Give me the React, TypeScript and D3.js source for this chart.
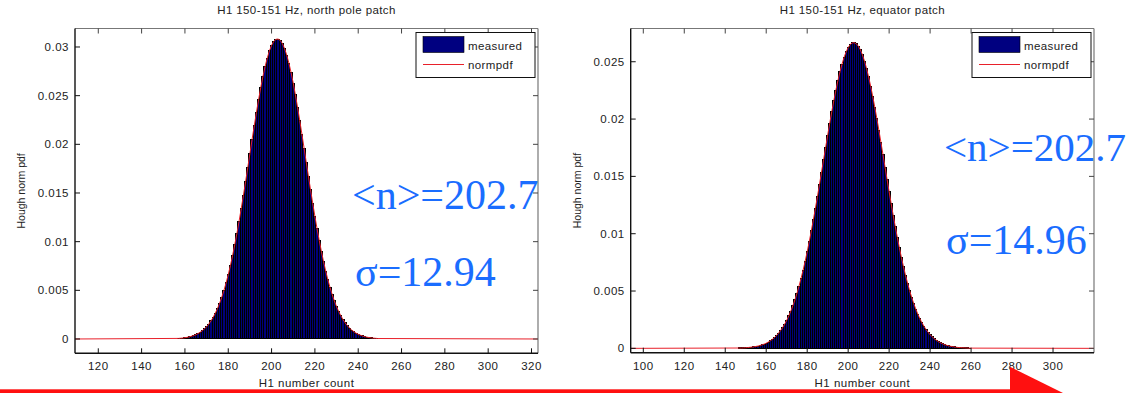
import React from 'react';
import * as d3 from 'd3';

// ---- data ----
const northFirstCount = 157;
const northMeasured = [
  0.00006, 0.00008, 0.0001, 0.00013, 0.00017, 0.00022, 0.00028, 0.00035, 0.00044, 0.00055,
  0.00069, 0.00085, 0.00104, 0.00127, 0.00153, 0.00185, 0.00221, 0.00264, 0.00312, 0.00367,
  0.00429, 0.00499, 0.00576, 0.00662, 0.00756, 0.00858, 0.00968, 0.01085, 0.0121, 0.01341,
  0.01477, 0.01617, 0.0176, 0.01905, 0.02049, 0.0219, 0.02328, 0.02459, 0.02583, 0.02696,
  0.02798, 0.02886, 0.0296, 0.03017, 0.03057, 0.03079, 0.03082, 0.03068, 0.03035, 0.02984,
  0.02917, 0.02835, 0.02738, 0.0263, 0.0251, 0.02381, 0.02246, 0.02106, 0.01962, 0.01818,
  0.01674, 0.01533, 0.01395, 0.01261, 0.01134, 0.01014, 0.00901, 0.00796, 0.00698, 0.00609,
  0.00529, 0.00456, 0.00391, 0.00333, 0.00282, 0.00238, 0.00199, 0.00165, 0.00137, 0.00112,
  0.00092, 0.00075, 0.0006, 0.00048, 0.00039, 0.00031, 0.00024, 0.00019, 0.00015, 0.00011,
  0.00009, 0.00007, 0.00005,
];
const equatorFirstCount = 147;
const equatorMeasured = [
  0.00003, 0.00003, 0.00004, 0.00005, 0.00007, 0.00009, 0.00011, 0.00013, 0.00017, 0.0002,
  0.00025, 0.00031, 0.00037, 0.00045, 0.00055, 0.00066, 0.00079, 0.00094, 0.00111, 0.00132,
  0.00155, 0.00181, 0.00211, 0.00245, 0.00283, 0.00325, 0.00372, 0.00423, 0.0048, 0.00542,
  0.0061, 0.00682, 0.0076, 0.00843, 0.00931, 0.01024, 0.01121, 0.01221, 0.01324, 0.0143,
  0.01538, 0.01646, 0.01753, 0.0186, 0.01964, 0.02065, 0.02161, 0.02252, 0.02336, 0.02412,
  0.0248, 0.02538, 0.02586, 0.02624, 0.0265, 0.02664, 0.02666, 0.02657, 0.02635, 0.02603,
  0.02559, 0.02505, 0.0244, 0.02367, 0.02286, 0.02198, 0.02104, 0.02005, 0.01902, 0.01796,
  0.01689, 0.01581, 0.01473, 0.01366, 0.01262, 0.0116, 0.01062, 0.00968, 0.00878, 0.00793,
  0.00713, 0.00638, 0.00569, 0.00504, 0.00446, 0.00392, 0.00343, 0.00299, 0.00259, 0.00224,
  0.00193, 0.00165, 0.00141, 0.00119, 0.00101, 0.00085, 0.00071, 0.00059, 0.00049, 0.00041,
  0.00033, 0.00027, 0.00022, 0.00018, 0.00015, 0.00012, 0.00009, 0.00007, 0.00006, 0.00005,
  0.00004, 0.00003, 0.00002,
];
const northXTicks = [120, 140, 160, 180, 200, 220, 240, 260, 280, 300, 320];
const equatorXTicks = [100, 120, 140, 160, 180, 200, 220, 240, 260, 280, 300];
const northYTicks = [0, 0.005, 0.01, 0.015, 0.02, 0.025, 0.03];
const equatorYTicks = [0, 0.005, 0.01, 0.015, 0.02, 0.025];
const northTitle = 'H1 150-151 Hz, north pole patch';
const equatorTitle = 'H1 150-151 Hz, equator patch';
const xLabel = 'H1 number count';
const yLabel = 'Hough norm pdf';
const legendLabels = ['measured', 'normpdf'];
const northMean = '<n>=202.7';
const northSigma = 'σ=12.94';
const equatorMean = '<n>=202.7';
const equatorSigma = 'σ=14.96';

const SANS = '"Liberation Sans", Arial, Helvetica, sans-serif';
const SERIF = '"Liberation Serif", "Times New Roman", serif';
const NAVY = '#00007a';
const RED = '#e8202a';
const BLUE = '#1a6dff';

type PanelProps = {
  id: string;
  box: [number, number, number, number]; // left, top, right, bottom
  xDomain: [number, number];
  yDomain: [number, number];
  first: number;
  values: number[];
  xTicks: number[];
  yTicks: number[];
  title: string;
  mean: string;
  sigma: string;
  meanPos: [number, number];
  sigmaPos: [number, number];
  annSize: number;
};

function fmtY(v: number) {
  if (v === 0) return '0';
  return String(+v.toFixed(3));
}

function Panel(p: PanelProps) {
  const [L, T, R, B] = p.box;
  const xs = d3.scaleLinear().domain(p.xDomain).range([L, R]);
  const ys = d3.scaleLinear().domain(p.yDomain).range([B, T]);
  const pts: [number, number][] = [[p.xDomain[0], 0]];
  p.values.forEach((v, i) => pts.push([p.first + i, v]));
  pts.push([p.xDomain[1], 0]);
  const line = d3
    .line<[number, number]>()
    .x((d) => xs(d[0]))
    .y((d) => ys(d[1]));
  const cx = (L + R) / 2;
  const cy = (T + B) / 2;
  const tick = 5;
  const legW = 119;
  const legH = 45;
  const legX = R - 3 - legW;
  const legY = T + 4;
  return (
    <g>
      <defs>
        <clipPath id={`clip-${p.id}`}>
          <rect x={L} y={T} width={R - L} height={B - T} />
        </clipPath>
      </defs>
      <rect x={L} y={T} width={R - L} height={B - T} fill="#fff" />
      <g clipPath={`url(#clip-${p.id})`}>
        <g shapeRendering="crispEdges">
          {p.values.map((v, i) => {
            const c = p.first + i;
            const x0 = xs(c - 0.5);
            const x1 = xs(c + 0.5);
            return (
              <rect
                key={i}
                x={x0}
                y={ys(v)}
                width={x1 - x0}
                height={ys(0) - ys(v)}
                fill={NAVY}
                stroke="#000"
                strokeWidth={1}
              />
            );
          })}
        </g>
        <path d={line(pts) || ''} fill="none" stroke={RED} strokeWidth={1} />
      </g>
      {/* axes box */}
      <line x1={L} x2={R} y1={T} y2={T} stroke="#777" strokeWidth={1} />
      <line x1={R} x2={R} y1={T} y2={B} stroke="#777" strokeWidth={1.2} />
      <line x1={L} x2={R} y1={B} y2={B} stroke="#111" strokeWidth={1.4} />
      <line x1={L} x2={L} y1={T} y2={B} stroke="#111" strokeWidth={1.4} />
      {p.xTicks.map((t) => (
        <g key={`x${t}`}>
          <line x1={xs(t)} x2={xs(t)} y1={B} y2={B - tick} stroke="#111" strokeWidth={1} />
          <line x1={xs(t)} x2={xs(t)} y1={T} y2={T + tick} stroke="#444" strokeWidth={1} />
          <text
            x={xs(t)}
            y={B + 17}
            textAnchor="middle"
            fontFamily={SANS}
            fontSize={11.5}
            letterSpacing={0.5}
            fill="#222"
          >
            {t}
          </text>
        </g>
      ))}
      {p.yTicks.map((t) => (
        <g key={`y${t}`}>
          <line x1={L} x2={L + tick} y1={ys(t)} y2={ys(t)} stroke="#111" strokeWidth={1} />
          <line x1={R} x2={R - tick} y1={ys(t)} y2={ys(t)} stroke="#444" strokeWidth={1} />
          <text
            x={L - 6}
            y={ys(t) + 4}
            textAnchor="end"
            fontFamily={SANS}
            fontSize={11.5}
            letterSpacing={0.5}
            fill="#222"
          >
            {fmtY(t)}
          </text>
        </g>
      ))}
      <text x={cx} y={14} textAnchor="middle" fontFamily={SANS} fontSize={11.5} letterSpacing={0.4} fill="#222">
        {p.title}
      </text>
      <text x={cx} y={387} textAnchor="middle" fontFamily={SANS} fontSize={11.5} letterSpacing={0.5} fill="#222">
        {xLabel}
      </text>
      <text
        transform={`translate(${L - 50},${cy}) rotate(-90)`}
        textAnchor="middle"
        fontFamily={SANS}
        fontSize={10.5}
        fill="#222"
      >
        {yLabel}
      </text>
      {/* legend */}
      <rect x={legX} y={legY} width={legW} height={legH} fill="#fff" stroke="#111" strokeWidth={1} />
      <rect x={legX + 7} y={legY + 4} width={41} height={16} fill="#000080" stroke="#000" strokeWidth={0.6} />
      <text x={legX + 52} y={legY + 17} fontFamily={SANS} fontSize={11.5} letterSpacing={0.4} fill="#222">
        {legendLabels[0]}
      </text>
      <line x1={legX + 7} x2={legX + 48} y1={legY + 32} y2={legY + 32} stroke={RED} strokeWidth={1} />
      <text x={legX + 52} y={legY + 36} fontFamily={SANS} fontSize={11.5} letterSpacing={0.4} fill="#222">
        {legendLabels[1]}
      </text>
      {/* annotations */}
      <text x={p.meanPos[0]} y={p.meanPos[1]} fontFamily={SERIF} fontSize={p.annSize} fill={BLUE}>
        {p.mean}
      </text>
      <text x={p.sigmaPos[0]} y={p.sigmaPos[1]} fontFamily={SERIF} fontSize={42} fill={BLUE}>
        {p.sigma}
      </text>
    </g>
  );
}

export default function App() {
  return (
    <svg
      width={1130}
      height={393}
      style={{ position: 'absolute', left: 0, top: 0, background: '#fff' }}
    >
      <rect x={0} y={0} width={1130} height={393} fill="#fff" />
      <Panel
        id="north"
        box={[75, 28.5, 538, 353.3]}
        xDomain={[109.25, 323]}
        yDomain={[-0.00147, 0.0319]}
        first={northFirstCount}
        values={northMeasured}
        xTicks={northXTicks}
        yTicks={northYTicks}
        title={northTitle}
        mean={northMean}
        sigma={northSigma}
        meanPos={[352, 209]}
        sigmaPos={[355, 286]}
        annSize={42}
      />
      <Panel
        id="equator"
        box={[630.7, 28.5, 1094, 352.7]}
        xDomain={[93.85, 320]}
        yDomain={[-0.00038, 0.0279]}
        first={equatorFirstCount}
        values={equatorMeasured}
        xTicks={equatorXTicks}
        yTicks={equatorYTicks}
        title={equatorTitle}
        mean={equatorMean}
        sigma={equatorSigma}
        meanPos={[944, 161]}
        sigmaPos={[946, 254]}
        annSize={41}
      />
      {/* red arrow along the bottom */}
      <rect x={0} y={389.3} width={1012} height={4} fill="#ff1010" />
      <polygon points="1010,366.7 1063,393 1010,393" fill="#ff1010" />
    </svg>
  );
}
